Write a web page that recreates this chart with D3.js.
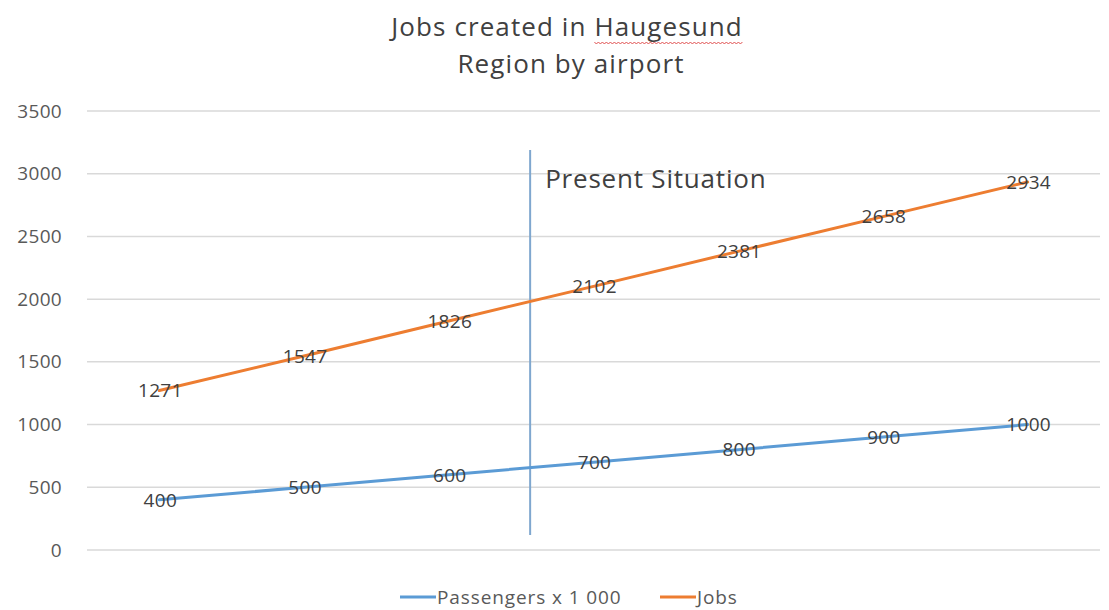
<!DOCTYPE html>
<html>
<head>
<meta charset="utf-8">
<script src="https://cdn.jsdelivr.net/npm/d3@7"></script>
<style>
  body { margin: 0; background: #fff; }
  svg text { font-family: "Open Sans", "Noto Sans", sans-serif; fill: #595959; }
</style>
</head>
<body>
<div id="chart"></div>
<script>
var categories = [1, 2, 3, 4, 5, 6, 7];
var passengers = [400, 500, 600, 700, 800, 900, 1000];
var jobs = [1271, 1547, 1826, 2102, 2381, 2658, 2934];
var yTicks = [0, 500, 1000, 1500, 2000, 2500, 3000, 3500];
var seriesNames = ["Passengers x 1 000", "Jobs"];
var colors = ["#5b9bd5", "#ed7d31"];

var width = 1109, height = 610;
var plotLeft = 87, plotRight = 1100, plotTop = 111, plotBottom = 550;

var svg = d3.select("#chart").append("svg")
  .attr("width", width)
  .attr("height", height);

var x = d3.scalePoint()
  .domain(categories)
  .range([plotLeft, plotRight])
  .padding(0.5);

var y = d3.scaleLinear()
  .domain([0, 3500])
  .range([plotBottom, plotTop]);

// gridlines
svg.append("g").selectAll("line")
  .data(yTicks)
  .enter().append("line")
  .attr("x1", plotLeft).attr("x2", plotRight)
  .attr("y1", function(d) { return y(d); })
  .attr("y2", function(d) { return y(d); })
  .attr("stroke", "#d9d9d9")
  .attr("stroke-width", 1.5);

// y axis labels
var yAxis = svg.append("g")
  .attr("transform", "translate(" + plotLeft + ",0)")
  .call(d3.axisLeft(y).tickValues(yTicks).tickFormat(d3.format("d")).tickSize(0).tickPadding(25));
yAxis.select(".domain").remove();
yAxis.selectAll("text")
  .style("font-size", "19px")
  .style("letter-spacing", "0.3px")
  .style("font-family", "'Open Sans', sans-serif")
  .style("fill", "#595959");

// title
var title = svg.append("text")
  .attr("text-anchor", "middle")
  .style("font-size", "26px")
  .style("letter-spacing", "1.1px")
  .style("fill", "#404040");
title.append("tspan").attr("x", 567).attr("y", 36).text("Jobs created in ");
var hs = title.append("tspan").text("Haugesund");
title.append("tspan").attr("x", 571).attr("y", 73).text("Region by airport");

// spell-check squiggle under Haugesund
var bb = hs.node().getBBox();
var wave = d3.path();
var wy = bb.y + bb.height - 2;
wave.moveTo(bb.x, wy);
for (var wx = bb.x; wx < bb.x + bb.width - 4; wx += 4) {
  wave.lineTo(wx + 2, wy + 2);
  wave.lineTo(wx + 4, wy);
}
svg.append("path")
  .attr("d", wave.toString())
  .attr("fill", "none")
  .attr("stroke", "#e05050")
  .attr("stroke-width", 1);

// present situation marker
var markX = (x(3) + x(4)) / 2 + 9;
svg.append("line")
  .attr("x1", markX).attr("x2", markX)
  .attr("y1", 150).attr("y2", 535)
  .attr("stroke", "#7fa7cf")
  .attr("stroke-width", 2);
svg.append("text")
  .attr("x", markX + 15)
  .attr("y", 188)
  .style("font-size", "26px")
  .style("letter-spacing", "0.8px")
  .style("fill", "#404040")
  .text("Present Situation");

var series = [passengers, jobs];
var line = d3.line()
  .x(function(d, i) { return x(categories[i]); })
  .y(function(d) { return y(d); });

series.forEach(function(s, k) {
  svg.append("path")
    .datum(s)
    .attr("d", line)
    .attr("fill", "none")
    .attr("stroke", colors[k])
    .attr("stroke-width", 3)
    .attr("stroke-linecap", "round");
});

series.forEach(function(s, k) {
  svg.append("g").selectAll("text")
    .data(s)
    .enter().append("text")
    .attr("x", function(d, i) { return x(categories[i]) + 1; })
    .attr("y", function(d) { return y(d); })
    .attr("dy", "0.36em")
    .attr("text-anchor", "middle")
    .style("font-size", "19px")
    .style("letter-spacing", "0.3px")
    .style("fill", "#404040")
    .text(function(d) { return d; });
});

// legend
var legend = svg.append("g").attr("transform", "translate(0,597)");
var lx = [400, 660];
seriesNames.forEach(function(name, k) {
  legend.append("line")
    .attr("x1", lx[k]).attr("x2", lx[k] + 36)
    .attr("y1", 0).attr("y2", 0)
    .attr("stroke", colors[k])
    .attr("stroke-width", 3);
  legend.append("text")
    .attr("x", lx[k] + 37)
    .attr("y", 0)
    .attr("dy", "0.36em")
    .style("font-size", "19px")
    .style("letter-spacing", "0.9px")
    .style("fill", "#595959")
    .text(name);
});
</script>
</body>
</html>
